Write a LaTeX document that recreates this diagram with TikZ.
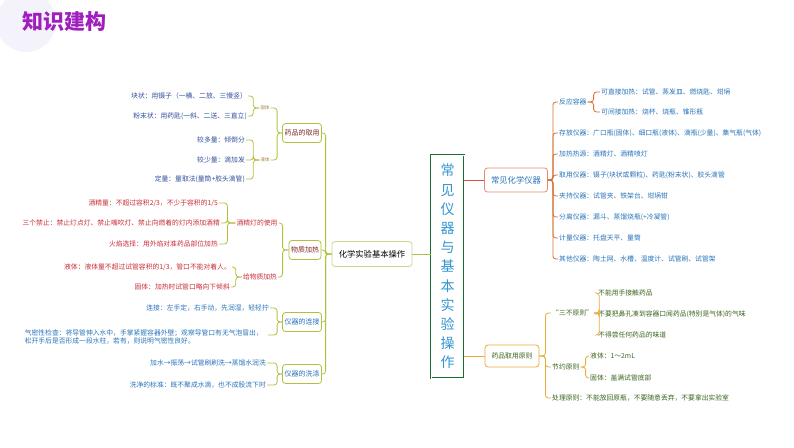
\documentclass[tikz,border=0pt]{standalone}
\usepackage{fontspec}
\setmainfont{Noto Sans CJK SC}
\usepackage{xcolor}
\usepackage{tikz}
\usetikzlibrary{positioning, calc}

\definecolor{titlepurple}{RGB}{160,30,190}
\definecolor{olivel}{RGB}{176,192,64}
\definecolor{olivep}{RGB}{205,214,140}
\definecolor{tagbrown}{RGB}{165,125,60}
\definecolor{dblue}{RGB}{50,80,155}
\definecolor{lblue}{RGB}{40,115,185}
\definecolor{lred}{RGB}{200,45,55}
\definecolor{dred}{RGB}{130,40,40}
\definecolor{rootgreen}{RGB}{25,110,45}
\definecolor{rootblue}{RGB}{50,150,210}
\definecolor{redline}{RGB}{220,80,70}
\definecolor{coral}{RGB}{232,140,110}
\definecolor{brownl}{RGB}{212,112,50}
\definecolor{orangel}{RGB}{235,170,60}
\definecolor{dgreen}{RGB}{60,100,30}
\definecolor{bgpale}{RGB}{244,243,252}

\begin{document}
\begin{tikzpicture}[
    x=1pt, y=-1pt,
    leaf/.style={font=\fontsize{6.8}{8.5}\selectfont, inner sep=1pt},
    tag/.style={font=\fontsize{4.5}{5}\selectfont, inner sep=1pt, text=tagbrown},
    sub/.style={draw=olivel, line width=0.8pt, rounded corners=3pt, fill=white, inner sep=2pt, minimum height=19pt, font=\fontsize{7}{8}\selectfont},
    main/.style={draw, line width=0.8pt, rounded corners=3pt, fill=white, inner sep=3pt, font=\fontsize{8.3}{9}\selectfont},
    link/.style={draw=olivel, line width=0.8pt, rounded corners=3pt},
    rlink/.style={draw=brownl, line width=0.8pt, rounded corners=3pt},
    olink/.style={draw=orangel, line width=0.8pt, rounded corners=3pt}
]
    \useasboundingbox (0,0) rectangle (794,447);

    % Title
    \fill[bgpale] (26,22) circle (30);
    \node[font=\fontsize{21}{24}\selectfont\bfseries, text=titlepurple, anchor=west] (title) at (19,22) {知识建构};

    % Centre
    \node[draw=rootgreen, double, double distance=0.8pt, line width=0.6pt, fill=white, minimum width=33pt, minimum height=223pt, inner sep=0pt, align=center, text=rootblue, font=\fontsize{14}{19.2}\selectfont] (root) at (447.5,266.5) {常\\见\\仪\\器\\与\\基\\本\\实\\验\\操\\作};
    \node[main, draw=olivep, minimum width=80pt, minimum height=25pt] (basic) at (372,254) {化学实验基本操作};
    \draw[link] (basic.east) -- (basic.east -| root.west);

    % Left: second level
    \node[sub, text=dred] (fetch) at (302,133) {药品的取用};
    \node[sub, text=dred] (heat) at (305,250) {物质加热};
    \node[sub, text=lblue] (connect) at (302,322) {仪器的连接};
    \node[sub, text=lblue] (wash) at (302,374) {仪器的洗涤};
    \foreach \n in {fetch, heat, connect, wash}
        \draw[link] (basic.west) -- ++(-6,0) |- (\n.east);

    % Taking drugs
    \node[tag] (solid) at (265,108) {固体};
    \node[tag] (liquid) at (265,160) {液体};
    \draw[link] (fetch.west) -- ++(-5,0) |- (solid.east);
    \draw[link] (fetch.west) -- ++(-5,0) |- (liquid.east);
    \node[leaf, text=dblue, anchor=east] (lump) at (248,96) {块状：用镊子（一横、二放、三慢竖）};
    \node[leaf, text=dblue, anchor=east] (powder) at (248,116) {粉末状：用药匙(一斜、二送、三直立)};
    \draw[link] (solid.west) -- ++(-6,0) |- (lump.east);
    \draw[link] (solid.west) -- ++(-6,0) |- (powder.east);
    \node[leaf, text=dblue, anchor=east] (more) at (246,140) {较多量：倾倒分};
    \node[leaf, text=dblue, anchor=east] (less) at (246,160) {较少量：滴加发};
    \node[leaf, text=dblue, anchor=east] (fixed) at (246,179) {定量：量取法(量筒+胶头滴管)};
    \foreach \n in {more, less, fixed}
        \draw[link] (liquid.west) -- ++(-6,0) |- (\n.east);

    % Heating
    \node[leaf, text=lred] (lamp) at (257,223) {酒精灯的使用};
    \node[leaf, text=lred] (heatsub) at (260,277) {给物质加热};
    \draw[link] (heat.west) -- ++(-6,0) |- (lamp.east);
    \draw[link] (heat.west) -- ++(-6,0) |- (heatsub.east);
    \node[leaf, text=lred, anchor=east] (alc1) at (219,203) {酒精量：不超过容积2/3，不少于容积的1/5};
    \node[leaf, text=lred, anchor=east] (alc2) at (221,223) {三个禁止：禁止灯点灯、禁止嘴吹灯、禁止向燃着的灯内添加酒精};
    \node[leaf, text=lred, anchor=east] (alc3) at (219,244) {火焰选择：用外焰对准药品部位加热};
    \foreach \n in {alc1, alc2, alc3}
        \draw[link] (lamp.west) -- ++(-8,0) |- (\n.east);
    \node[leaf, text=lred, anchor=east] (lq) at (232,267) {液体：液体量不超过试管容积的1/3，管口不能对着人。};
    \node[leaf, text=lred, anchor=east] (sd) at (231,287) {固体：加热时试管口略向下倾斜};
    \draw[link] (heatsub.west) -- ++(-6,0) |- (lq.east);
    \draw[link] (heatsub.west) -- ++(-6,0) |- (sd.east);

    % Connecting
    \node[leaf, text=lblue, anchor=east] (link1) at (270,308) {连接：左手定，右手动，先润湿，轻轻拧};
    \node[leaf, text=lblue, anchor=east, align=left] (link2) at (264,337) {气密性检查：将导管伸入水中，手掌紧握容器外壁；观察导管口有无气泡冒出，\\松开手后是否形成一段水柱，若有，则说明气密性良好。};
    \draw[link] (connect.west) -- ++(-5,0) |- (link1.east);
    \draw[link] (connect.west) -- ++(-5,0) |- ($(link2.east)+(4,-2)$);

    % Washing
    \node[leaf, text=lblue, anchor=east] (wash1) at (267,363) {加水→振荡→试管刷刷洗→蒸馏水润洗};
    \node[leaf, text=lblue, anchor=east] (wash2) at (267,385) {洗净的标准：既不聚成水滴，也不成股流下时};
    \draw[link] (wash.west) -- ++(-5,0) |- (wash1.east);
    \draw[link] (wash.west) -- ++(-5,0) |- (wash2.east);

    % Right: instruments
    \node[main, draw=coral, text=lblue, minimum width=63pt, minimum height=24pt] (instr) at (516,180) {常见化学仪器};
    \draw[redline, line width=0.8pt] (root.east |- instr.west) -- (instr.west);
    \node[leaf, text=lblue, anchor=west] (react) at (558,102) {反应容器};
    \node[leaf, text=lblue, anchor=west] (store) at (558,133) {存放仪器：广口瓶(固体)、细口瓶(液体)、滴瓶(少量)、集气瓶(气体)};
    \node[leaf, text=lblue, anchor=west] (source) at (558,154) {加热热源：酒精灯、酒精喷灯};
    \node[leaf, text=lblue, anchor=west] (take) at (558,175) {取用仪器：镊子(块状或颗粒)、药匙(粉末状)、胶头滴管};
    \node[leaf, text=lblue, anchor=west] (hold) at (558,196) {夹持仪器：试管夹、铁架台、坩埚钳};
    \node[leaf, text=lblue, anchor=west] (sep) at (558,217) {分离仪器：漏斗、蒸馏烧瓶(+冷凝管)};
    \node[leaf, text=lblue, anchor=west] (meas) at (558,238) {计量仪器：托盘天平、量筒};
    \node[leaf, text=lblue, anchor=west] (other) at (558,259) {其他仪器：陶土网、水槽、温度计、试管刷、试管架};
    \foreach \n in {react, store, source, take, hold, sep, meas, other}
        \draw[rlink] (instr.east) -- ++(5,0) |- (\n.west);
    \node[leaf, text=lblue, anchor=west] (direct) at (600,92) {可直接加热：试管、蒸发皿、燃烧匙、坩埚};
    \node[leaf, text=lblue, anchor=west] (indirect) at (600,112) {可间接加热：烧杯、烧瓶、锥形瓶};
    \draw[rlink] (react.east) -- ++(6,0) |- (direct.west);
    \draw[rlink] (react.east) -- ++(6,0) |- (indirect.west);

    % Right: rules
    \node[main, draw=orangel, text=dgreen, minimum width=54pt, minimum height=22pt, font=\fontsize{6.8}{8}\selectfont] (rule) at (512,356) {药品取用原则};
    \draw[orangel, line width=0.8pt] (root.east |- rule.west) -- (rule.west);
    \node[leaf, text=dgreen, anchor=west] (three) at (551,313) {“三不原则”};
    \node[leaf, text=dgreen, anchor=west] (save) at (551,367) {节约原则};
    \node[leaf, text=dgreen, anchor=west] (dispose) at (551,398) {处理原则：不能放回原瓶，不要随意丢弃，不要拿出实验室};
    \foreach \n in {three, save, dispose}
        \draw[olink] (rule.east) -- ++(6,0) |- (\n.west);
    \node[leaf, text=dgreen, anchor=west] (n1) at (597,293) {不能用手接触药品};
    \node[leaf, text=dgreen, anchor=west] (n2) at (597,314) {不要把鼻孔凑到容器口闻药品(特别是气体)的气味};
    \node[leaf, text=dgreen, anchor=west] (n3) at (597,335) {不得尝任何药品的味道};
    \foreach \n in {n1, n2, n3}
        \draw[olink] (three.east) -- ++(5,0) |- (\n.west);
    \node[leaf, text=dgreen, anchor=west] (s1) at (589,356) {液体：1～2mL};
    \node[leaf, text=dgreen, anchor=west] (s2) at (589,378) {固体：盖满试管底部};
    \draw[olink] (save.east) -- ++(5,0) |- (s1.west);
    \draw[olink] (save.east) -- ++(5,0) |- (s2.west);
\end{tikzpicture}
\end{document}
